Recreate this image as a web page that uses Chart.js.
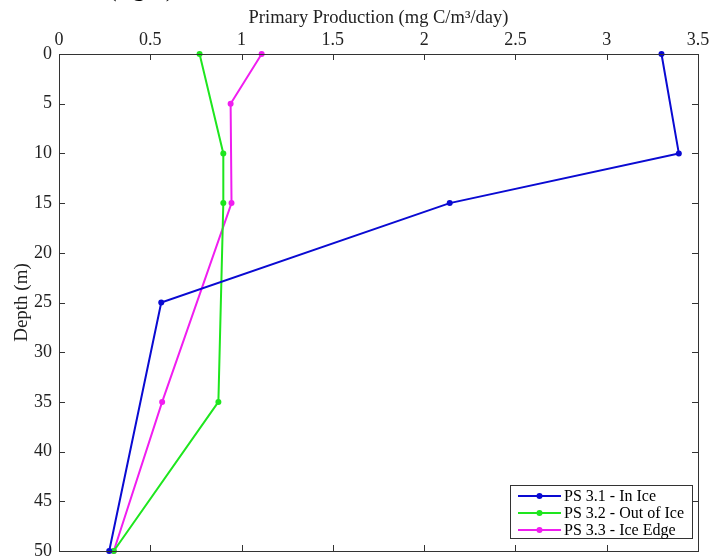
<!DOCTYPE html>
<html>
<head>
<meta charset="utf-8">
<script src="https://cdn.jsdelivr.net/npm/chart.js@4.4.0/dist/chart.umd.min.js"></script>
<style>
  html, body { margin: 0; padding: 0; background: #fff; }
  #wrap { width: 709px; height: 558px; position: relative; }
</style>
</head>
<body>
<div id="wrap"><canvas id="myChart" width="709" height="558"></canvas></div>
<script>
// depths (m) and primary production values
const depthsInIce = [0, 10, 15, 25, 50]
const prodInIce = [3.30, 3.395, 2.14, 0.56, 0.275]

const depthsOutIce = [0, 10, 15, 35, 50]
const prodOutIce = [0.77, 0.90, 0.90, 0.873, 0.30]

const depthsIceEdge = [0, 5, 15, 35, 50]
const prodIceEdge = [1.11, 0.94, 0.945, 0.565, 0.30]

const seriesLabels = ['PS 3.1 - In Ice', 'PS 3.2 - Out of Ice', 'PS 3.3 - Ice Edge']
const seriesColors = ['#0a0ad2', '#1ee61e', '#f01ef0']

const xTicks = [0, 0.5, 1, 1.5, 2, 2.5, 3, 3.5]
const yTicks = [0, 5, 10, 15, 20, 25, 30, 35, 40, 45, 50]

const FONT = '"Liberation Serif", "Times New Roman", serif'

function toPoints(xs, ys){
    return xs.map((x, i) => ({x: x, y: ys[i]}))
}

// no extra room for half tick labels, the box is placed by hand
function noPad(s){
    s.paddingLeft = 0
    s.paddingRight = 0
    s.paddingTop = 0
    s.paddingBottom = 0
}

// box, inward ticks, the clipped caption bit and the legend
const framePlugin = {
    id: 'frame',
    afterDraw(chart){
        const ctx = chart.ctx
        const a = chart.chartArea
        const xs = chart.scales.x
        const ys = chart.scales.y
        ctx.save()
        ctx.strokeStyle = '#333'
        ctx.lineWidth = 1
        ctx.strokeRect(Math.round(a.left) + 0.5, Math.round(a.top) + 0.5,
                       Math.round(a.right - a.left), Math.round(a.bottom - a.top))
        const t = 6
        ctx.beginPath()
        xTicks.forEach(v => {
            const px = Math.round(xs.getPixelForValue(v)) + 0.5
            ctx.moveTo(px, a.top); ctx.lineTo(px, a.top + t)
            ctx.moveTo(px, a.bottom); ctx.lineTo(px, a.bottom - t)
        })
        yTicks.forEach(v => {
            const py = Math.round(ys.getPixelForValue(v)) + 0.5
            ctx.moveTo(a.left, py); ctx.lineTo(a.left + t, py)
            ctx.moveTo(a.right, py); ctx.lineTo(a.right - t, py)
        })
        ctx.stroke()

        // bit of caption cut off at the top of the image
        ctx.fillStyle = '#000'
        ctx.font = '26px ' + FONT
        ctx.textBaseline = 'alphabetic'
        ctx.fillText('(right)', 108, -4)

        // legend box
        const lx = 510, ly = 485, lw = 182, lh = 53
        ctx.fillStyle = '#fff'
        ctx.fillRect(lx, ly, lw, lh)
        ctx.strokeStyle = '#333'
        ctx.lineWidth = 1
        ctx.strokeRect(lx + 0.5, ly + 0.5, lw, lh)
        ctx.font = '16px ' + FONT
        ctx.textBaseline = 'middle'
        chart.data.datasets.forEach((ds, i) => {
            const yy = ly + 11 + i * 17
            ctx.strokeStyle = ds.borderColor
            ctx.lineWidth = 2
            ctx.beginPath()
            ctx.moveTo(lx + 8, yy); ctx.lineTo(lx + 51, yy)
            ctx.stroke()
            ctx.fillStyle = ds.borderColor
            ctx.beginPath()
            ctx.arc(lx + 29.5, yy, 3, 0, Math.PI * 2)
            ctx.fill()
            ctx.fillStyle = '#000'
            ctx.fillText(ds.label, lx + 54, yy + 1)
        })
        ctx.restore()
    }
}

function makeSet(label, color, xs, ys){
    return {
        label: label,
        data: toPoints(xs, ys),
        borderColor: color,
        backgroundColor: color,
        borderWidth: 2,
        pointRadius: 3,
        pointHoverRadius: 3,
        pointBorderWidth: 0,
        tension: 0
    }
}

function createReport(){
    const ctx = document.getElementById('myChart').getContext('2d')
    new Chart(ctx, {
        type: 'line',
        data: {
            datasets: [
                makeSet(seriesLabels[0], seriesColors[0], prodInIce, depthsInIce),
                makeSet(seriesLabels[1], seriesColors[1], prodOutIce, depthsOutIce),
                makeSet(seriesLabels[2], seriesColors[2], prodIceEdge, depthsIceEdge)
            ]
        },
        options: {
            responsive: false,
            animation: false,
            clip: false,
            layout: { autoPadding: false, padding: { left: 0, right: 11, top: 0, bottom: 7 } },
            plugins: { legend: { display: false }, tooltip: { enabled: false } },
            scales: {
                x: {
                    type: 'linear',
                    position: 'top',
                    min: 0, max: 3.5,
                    afterBuildTicks: s => { s.ticks = xTicks.map(v => ({value: v})) },
                    afterFit: s => { s.height = 54; noPad(s) },
                    grid: { display: false, drawTicks: false },
                    border: { display: false },
                    ticks: {
                        color: '#222',
                        padding: 3,
                        maxRotation: 0,
                        font: { family: FONT, size: 18 },
                        callback: v => String(v)
                    },
                    title: {
                        display: true,
                        text: 'Primary Production (mg C/m³/day)',
                        color: '#222',
                        font: { family: FONT, size: 18.5 },
                        padding: { top: 7, bottom: 0 }
                    }
                },
                y: {
                    type: 'linear',
                    reverse: true,
                    min: 0, max: 50,
                    afterBuildTicks: s => { s.ticks = yTicks.map(v => ({value: v})) },
                    afterFit: s => { s.width = 59; noPad(s) },
                    grid: { display: false, drawTicks: false },
                    border: { display: false },
                    ticks: {
                        color: '#222',
                        padding: 7,
                        font: { family: FONT, size: 18 }
                    },
                    title: {
                        display: true,
                        text: 'Depth (m)',
                        color: '#222',
                        font: { family: FONT, size: 19 },
                        padding: { top: 11, bottom: 0 }
                    }
                }
            }
        },
        plugins: [framePlugin]
    })
}

createReport()
</script>
</body>
</html>
